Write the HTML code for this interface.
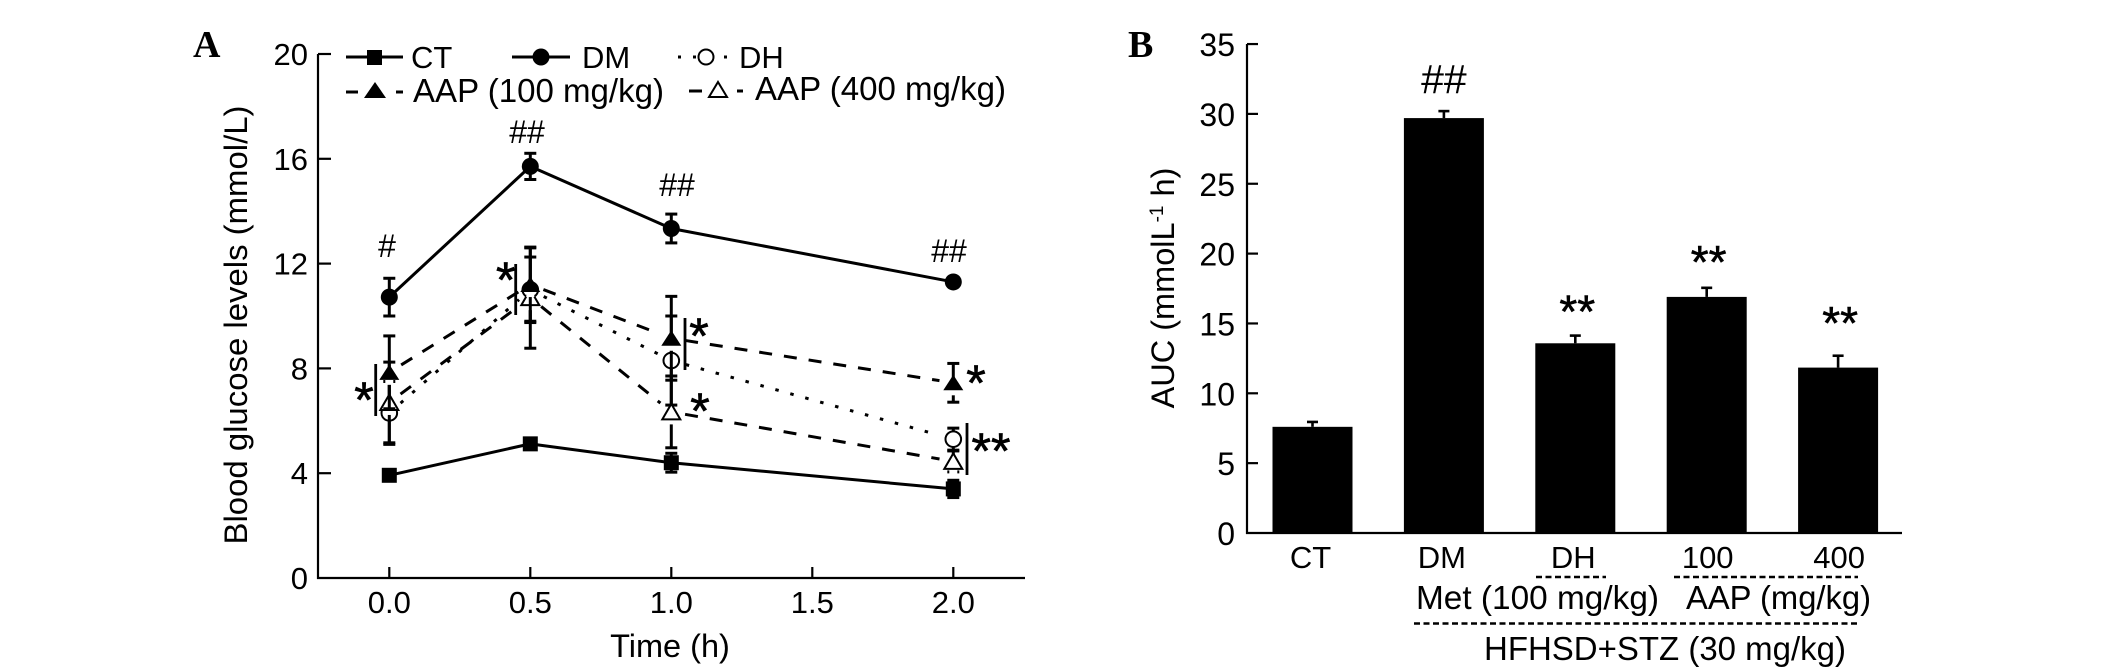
<!DOCTYPE html>
<html>
<head>
<meta charset="utf-8">
<title>Blood glucose levels and AUC</title>
<style>
html,body{margin:0;padding:0;background:#fff;}
svg{display:block;}
text{font-family:"Liberation Sans",sans-serif;fill:#000;}
.serif{font-family:"Liberation Serif",serif;font-weight:bold;}
</style>
</head>
<body>
<svg id="fig" xmlns="http://www.w3.org/2000/svg" width="2126" height="668" viewBox="0 0 2126 668">
  <rect width="2126" height="668" fill="#fff"/>
  <text class="serif" x="193" y="57" font-size="38">A</text>
  <text class="serif" x="1128" y="57" font-size="38">B</text>

  <g id="panelA"></g>
  <g id="panelB"></g>

  <text x="670" y="657" font-size="32.5" text-anchor="middle">Time (h)</text>
  <text transform="translate(247,325) rotate(-90)" font-size="32.5" text-anchor="middle" textLength="439" lengthAdjust="spacingAndGlyphs">Blood glucose levels (mmol/L)</text>

  <g id="legend" stroke="#000" stroke-width="3" fill="none">
    <g>
      <line x1="346" y1="57" x2="403" y2="57"/>
      <rect x="367" y="50" width="15" height="15" fill="#000" stroke="none"/>
      <text x="411" y="68" font-size="31" stroke="none">CT</text>
    </g>
    <g>
      <line x1="512" y1="57" x2="570" y2="57"/>
      <circle cx="541" cy="57" r="8.5" fill="#000" stroke="none"/>
      <text x="582" y="68" font-size="31" stroke="none">DM</text>
    </g>
    <g>
      <line x1="678" y1="57" x2="681" y2="57"/>
      <line x1="693" y1="57" x2="696" y2="57"/>
      <line x1="724" y1="57" x2="727" y2="57"/>
      <circle cx="706" cy="57" r="7.5" fill="#fff" stroke-width="2"/>
      <text x="739" y="68" font-size="31" stroke="none">DH</text>
    </g>
    <g>
      <line x1="346" y1="92" x2="358" y2="92"/>
      <line x1="396" y1="92" x2="403" y2="92"/>
      <polygon points="375,82 386,98 364,98" fill="#000" stroke="none"/>
      <text x="413" y="102" font-size="33" textLength="251" lengthAdjust="spacingAndGlyphs" stroke="none">AAP (100 mg/kg)</text>
    </g>
    <g>
      <line x1="689" y1="91" x2="702" y2="91"/>
      <line x1="737" y1="91" x2="743" y2="91"/>
      <polygon points="718,82 727,97 709,97" fill="#fff" stroke-width="2"/>
      <text x="755" y="100" font-size="33" textLength="251" lengthAdjust="spacingAndGlyphs" stroke="none">AAP (400 mg/kg)</text>
    </g>
  </g>

  <text transform="translate(1174,288) rotate(-90)" font-size="32.5" text-anchor="middle">AUC (mmolL<tspan font-size="19" dy="-11">-1</tspan><tspan dy="11"> h)</tspan></text>

  <g>
    <line x1="1536" y1="577" x2="1606" y2="577" stroke="#000" stroke-width="2.4" stroke-dasharray="6 3.5"/>
    <line x1="1674" y1="577" x2="1858" y2="577" stroke="#000" stroke-width="2.4" stroke-dasharray="6 3.5"/>
    <text x="1416" y="609" font-size="33" textLength="243" lengthAdjust="spacingAndGlyphs">Met (100 mg/kg)</text>
    <text x="1686" y="609" font-size="33" textLength="185" lengthAdjust="spacingAndGlyphs">AAP (mg/kg)</text>
    <line x1="1414" y1="623.5" x2="1860" y2="623.5" stroke="#000" stroke-width="2.4" stroke-dasharray="6 3.5"/>
    <text x="1484" y="660" font-size="33" textLength="362" lengthAdjust="spacingAndGlyphs">HFHSD+STZ (30 mg/kg)</text>
  </g>
</svg>
<script>
// ---------- Panel A data ----------
const timePoints = [0, 0.5, 1, 2];
const xTickValues = [0, 0.5, 1, 1.5, 2];
const xTickLabels = ['0.0', '0.5', '1.0', '1.5', '2.0'];
const yTickValuesA = [0, 4, 8, 12, 16, 20];
const seriesNames = ['DH', 'AAP400', 'AAP100', 'DM', 'CT'];
const valuesCT = [3.92, 5.12, 4.4, 3.4];
const errorsCT = [0.15, 0.2, 0.36, 0.33];
const valuesDM = [10.72, 15.71, 13.34, 11.3];
const errorsDM = [0.72, 0.5, 0.55, 0.15];
const valuesDH = [6.3, 11.0, 8.3, 5.3];
const errorsDH = [1.2, 1.25, 1.7, 0.42];
const valuesAAP100 = [7.85, 11.2, 9.15, 7.45];
const errorsAAP100 = [1.39, 1.4, 1.6, 0.74];
const valuesAAP400 = [6.7, 10.7, 6.34, 4.45];
const errorsAAP400 = [1.54, 1.93, 1.37, 0.4];
const dataBySeries = {CT: valuesCT, DM: valuesDM, DH: valuesDH, AAP100: valuesAAP100, AAP400: valuesAAP400};
const errorsBySeries = {CT: errorsCT, DM: errorsDM, DH: errorsDH, AAP100: errorsAAP100, AAP400: errorsAAP400};
const styleBySeries = {
  CT: {dash: '', marker: 'square', shorten: 0},
  DM: {dash: '', marker: 'circle', shorten: 0},
  DH: {dash: '3.5 12', marker: 'open-circle', shorten: 15},
  AAP100: {dash: '13 12', marker: 'triangle', shorten: 14},
  AAP400: {dash: '13 12', marker: 'open-triangle', shorten: 14}
};

// ---------- Panel B data ----------
const barCategories = ['CT', 'DM', 'DH', '100', '400'];
const barValues = [7.6, 29.7, 13.58, 16.9, 11.84];
const barErrors = [0.35, 0.5, 0.55, 0.65, 0.85];
const barMarks = ['', '##', '**', '**', '**'];
const yTickValuesB = [0, 5, 10, 15, 20, 25, 30, 35];

// ---------- Axis functions ----------
function xA(t) { return 389.3 + 282 * t; }
function yA(v) { return 578 - 26.2 * v; }
function xB(i) { return 1312.5 + 131.4 * i; }
function yB(v) { return 533 - 13.97 * v; }

const NS = 'http://www.w3.org/2000/svg';
function mk(tag, parent) {
  const el = document.createElementNS(NS, tag);
  parent.appendChild(el);
  return el;
}
function setAll(el, props) {
  for (const k in props) { el.setAttribute(k, props[k]); }
  return el;
}

const panelA = document.getElementById('panelA');
const panelB = document.getElementById('panelB');

// ---------- Panel A axes ----------
const axisAY = mk('line', panelA);
setAll(axisAY, {x1: 318, x2: 318, y1: yA(20), y2: yA(0) + 1, stroke: '#000', 'stroke-width': 2.2});


const axisAX = mk('line', panelA);
setAll(axisAX, {x1: 317, x2: 1025, y1: yA(0), y2: yA(0), stroke: '#000', 'stroke-width': 2.2});



yTickValuesA.forEach(function (v) {
  if (v > 0) {
    const tick = mk('line', panelA);
    setAll(tick, {x1: 318, x2: 331, y1: yA(v), y2: yA(v), stroke: '#000', 'stroke-width': 2.2});
    
    
  }
  const label = mk('text', panelA);
  setAll(label, {x: 308, y: yA(v) + 11, 'font-size': 31, 'text-anchor': 'end'});
  label.textContent = String(v);
  
  
});

xTickValues.forEach(function (t, i) {
  const tick = mk('line', panelA);
  setAll(tick, {x1: xA(t), x2: xA(t), y1: yA(0), y2: yA(0) - 11, stroke: '#000', 'stroke-width': 2.2});
  
  
  const label = mk('text', panelA);
  setAll(label, {x: xA(t), y: 613, 'font-size': 31, 'text-anchor': 'middle'});
  label.textContent = xTickLabels[i];
  
  
});

// ---------- Panel A series lines ----------
['CT', 'DM', 'DH', 'AAP400', 'AAP100'].forEach(function (name) {
  const vals = dataBySeries[name];
  const st = styleBySeries[name];
  for (let i = 0; i < vals.length - 1; i++) {
    const x1 = xA(timePoints[i]), y1 = yA(vals[i]);
    const x2 = xA(timePoints[i + 1]), y2 = yA(vals[i + 1]);
    const len = Math.hypot(x2 - x1, y2 - y1);
    const ux = (x2 - x1) / len, uy = (y2 - y1) / len;
    const seg = mk('line', panelA);
    setAll(seg, {
      x1: x1 + ux * st.shorten, y1: y1 + uy * st.shorten,
      x2: x2 - ux * st.shorten, y2: y2 - uy * st.shorten,
      stroke: '#000', 'stroke-width': 3
    });
    if (st.dash) { seg.setAttribute('stroke-dasharray', st.dash); }
    
    
  }
});

// ---------- Panel A error bars + markers ----------
seriesNames.forEach(function (name) {
  const vals = dataBySeries[name];
  const errs = errorsBySeries[name];
  const st = styleBySeries[name];
  vals.forEach(function (v, i) {
    const cx = xA(timePoints[i]);
    const cy = yA(v);
    const top = yA(v + errs[i]);
    const bot = yA(v - errs[i]);

    const stem = mk('line', panelA);
    setAll(stem, {x1: cx, x2: cx, y1: top, y2: bot, stroke: '#000', 'stroke-width': 3});
    
    
    [top, bot].forEach(function (yy) {
      const cap = mk('line', panelA);
      setAll(cap, {x1: cx - 6, x2: cx + 6, y1: yy, y2: yy, stroke: '#000', 'stroke-width': 3});
      
      
    });

    let m;
    if (st.marker === 'square') {
      m = mk('rect', panelA);
      setAll(m, {x: cx - 7.5, y: cy - 7.5, width: 15, height: 15, fill: '#000'});
    } else if (st.marker === 'circle') {
      m = mk('circle', panelA);
      setAll(m, {cx: cx, cy: cy, r: 8.5, fill: '#000'});
    } else if (st.marker === 'open-circle') {
      m = mk('circle', panelA);
      setAll(m, {cx: cx, cy: cy, r: 7.8, fill: '#fff', stroke: '#000', 'stroke-width': 2});
    } else {
      const gap = mk('rect', panelA);
      setAll(gap, {x: cx - 4, y: cy + 7, width: 8, height: 5.5, fill: '#fff'});
      
      
      m = mk('polygon', panelA);
      const filled = st.marker === 'triangle';
      const half = filled ? 10 : 9;
      const pts = cx + ',' + (cy - 8) + ' ' + (cx + half) + ',' + (cy + 7.5) + ' ' + (cx - half) + ',' + (cy + 7.5);
      setAll(m, {points: pts, fill: filled ? '#000' : '#fff', stroke: filled ? 'none' : '#000', 'stroke-width': 2});
    }
    
    
  });
});

// ---------- Panel A annotations ----------
function hash(x, baseline, s) {
  const t = mk('text', panelA);
  setAll(t, {x: x, y: baseline, 'font-size': 32, 'text-anchor': 'middle'});
  t.textContent = s;
  
  
}
hash(387, 257, '#');
hash(527, 143, '##');
hash(677, 196, '##');
hash(949, 262, '##');

function bracket(x, y1, y2) {
  const b = mk('line', panelA);
  setAll(b, {x1: x, x2: x, y1: y1, y2: y2, stroke: '#000', 'stroke-width': 2.8});
  
  
}
function stars(x, cy, s, size) {
  const t = mk('text', panelA);
  setAll(t, {x: x, y: cy + size * 0.48, 'font-size': size, 'text-anchor': 'middle', stroke: '#000', 'stroke-width': 0.7});
  t.textContent = s;
  
  
}
bracket(375.7, 364, 416);
bracket(515.7, 264, 315);
bracket(685, 318, 370);
bracket(967, 423, 475);
stars(364, 393, '*', 50);
stars(505.7, 273, '*', 50);
stars(699, 329, '*', 50);
stars(700, 404, '*', 50);
stars(976, 376, '*', 50);
stars(991, 444, '**', 50);

// ---------- Panel B axes ----------
const axisBY = mk('line', panelB);
setAll(axisBY, {x1: 1247, x2: 1247, y1: yB(35), y2: yB(0) + 1, stroke: '#000', 'stroke-width': 2.2});



yTickValuesB.forEach(function (v) {
  if (v > 0) {
    const tick = mk('line', panelB);
    setAll(tick, {x1: 1247, x2: 1258, y1: yB(v), y2: yB(v), stroke: '#000', 'stroke-width': 2.2});
    
    
  }
  const label = mk('text', panelB);
  setAll(label, {x: 1235, y: yB(v) + 12, 'font-size': 32, 'text-anchor': 'end'});
  label.textContent = String(v);
  
  
});

// ---------- Panel B bars ----------
barValues.forEach(function (v, i) {
  const cx = xB(i);
  const errTop = yB(v + barErrors[i]);
  const stem = mk('line', panelB);
  setAll(stem, {x1: cx, x2: cx, y1: errTop, y2: yB(v), stroke: '#000', 'stroke-width': 2.6});
  
  
  const cap = mk('line', panelB);
  setAll(cap, {x1: cx - 5.5, x2: cx + 5.5, y1: errTop, y2: errTop, stroke: '#000', 'stroke-width': 2.6});
  
  
  const bar = mk('rect', panelB);
  setAll(bar, {x: cx - 40, y: yB(v), width: 80, height: yB(0) - yB(v), fill: '#000'});
  
  

  const label = mk('text', panelB);
  const labelShift = i < 3 ? -2 : 1;
  setAll(label, {x: cx + labelShift, y: 568, 'font-size': 31, 'text-anchor': 'middle'});
  label.textContent = barCategories[i];
  
  

  if (barMarks[i]) {
    const mark = mk('text', panelB);
    if (barMarks[i] === '##') {
      setAll(mark, {x: cx, y: errTop - 18, 'font-size': 41, 'text-anchor': 'middle'});
    } else {
      const lift = i === 4 ? 39 : i === 3 ? 32 : 30;
      setAll(mark, {x: cx + 2, y: errTop - lift + 46 * 0.48, 'font-size': 46, 'text-anchor': 'middle', stroke: '#000', 'stroke-width': 0.6});
    }
    mark.textContent = barMarks[i];
    
    
  }
});

const axisBX = mk('line', panelB);
setAll(axisBX, {x1: 1246, x2: 1902, y1: yB(0), y2: yB(0), stroke: '#000', 'stroke-width': 2.2});


</script>
</body>
</html>
